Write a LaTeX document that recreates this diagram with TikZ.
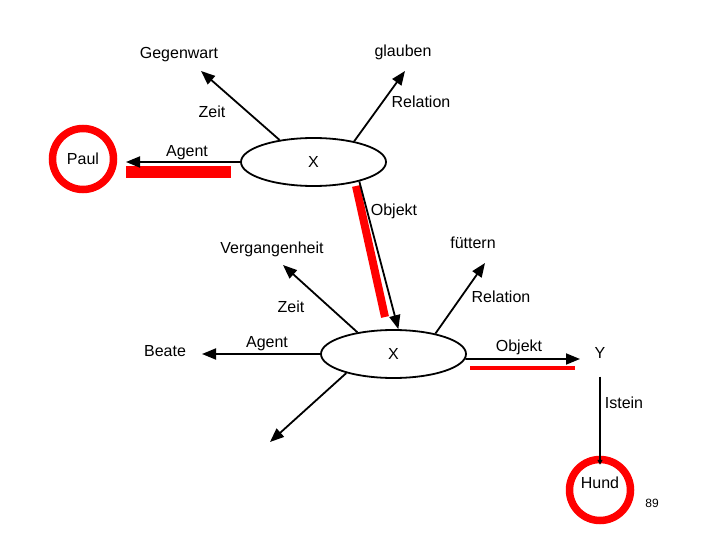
\documentclass[tikz,border=0pt]{standalone}
\usepackage{fontspec}
\setmainfont{Liberation Sans}
\usetikzlibrary{arrows.meta, shapes.geometric}

\begin{document}
\begin{tikzpicture}[
  x=1pt, y=-1pt,
  lbl/.style={font=\fontsize{16}{19}\selectfont, inner sep=1pt},
  ell/.style={ellipse, draw, line width=1.8pt, minimum width=145pt, minimum height=48pt, inner sep=0pt},
  ring/.style={circle, draw=red, line width=7.5pt, minimum size=61pt, inner sep=0pt},
  arr/.style={-{Triangle[length=14pt, width=11pt]}, line width=1.8pt},
  arrsmall/.style={-{Triangle[length=5pt, width=5pt]}, line width=1.8pt},
  redbar/.style={draw=red, line width=#1},
]
  \useasboundingbox (0,0) rectangle (720,540);

  % upper proposition
  \node[ell, lbl]  (x1)   at (313.5,162) {X};
  \node[ring, lbl] (paul) at (83,159)    {Paul};

  \node[lbl] (gegenwart) at (179,55)  {Gegenwart};
  \node[lbl] (glauben)   at (403,52)  {glauben};
  \node[lbl] (zeit1)     at (212,112) {Zeit};
  \node[lbl] (rel1)      at (421,102) {Relation};
  \node[lbl] (agent1)    at (187,153) {Agent};
  \node[lbl] (objekt1)   at (394,211) {Objekt};

  % lower proposition
  \node[ell, lbl] (x2) at (393.5,354) {X};

  \node[lbl] (vergangenheit) at (272,249) {Vergangenheit};
  \node[lbl] (fuettern)      at (473,243) {füttern};
  \node[lbl] (zeit2)         at (291,307) {Zeit};
  \node[lbl] (rel2)          at (501,297) {Relation};
  \node[lbl] (beate)         at (165,351) {Beate};
  \node[lbl] (agent2)        at (267,344) {Agent};
  \node[lbl] (objekt2)       at (519,347) {Objekt};
  \node[lbl] (y)             at (600,353) {Y};
  \node[lbl] (istein)        at (624,403) {Istein};
  \node[ring, lbl, text height=8pt, text depth=11pt] (hund) at (600,490) {Hund};
  \node[font=\fontsize{12}{14}\selectfont] (pagenr) at (652,503) {89};

  % arrow ends
  \coordinate (tGegen) at (201,71);
  \coordinate (tGlaub) at (405,71);
  \coordinate (tPaul)  at (126,162);
  \coordinate (tVerg)  at (283,265);
  \coordinate (tFuet)  at (485,263);
  \coordinate (tBeate) at (202,354);
  \coordinate (tDown)  at (270,442);
  \coordinate (tY)     at (580,359);

  % red markings
  \draw[redbar=12pt] (126,172) -- (231,172);
  \draw[redbar=8pt]  (356,186) -- (385,317);
  \draw[redbar=4pt]  (470,368) -- (575,368);

  \draw[arr] (x1.147) -- (tGegen);
  \draw[arr] (x1.27)  -- (tGlaub);
  \draw[arr] (x1.west) -- (tPaul);
  \draw[arr] (x1.337) -- (x2.79);

  \draw[arr] (x2.149) -- (tVerg);
  \draw[arr] (x2.26)  -- (tFuet);
  \draw[arr] (x2.west) -- (tBeate);
  \draw[arr] (x2.202) -- (tDown);
  \draw[arr] (x2.356) -- (tY);
  \draw[arrsmall, shorten <=17pt, shorten >=-9pt] (y.south) -- (hund.north);
\end{tikzpicture}
\end{document}
